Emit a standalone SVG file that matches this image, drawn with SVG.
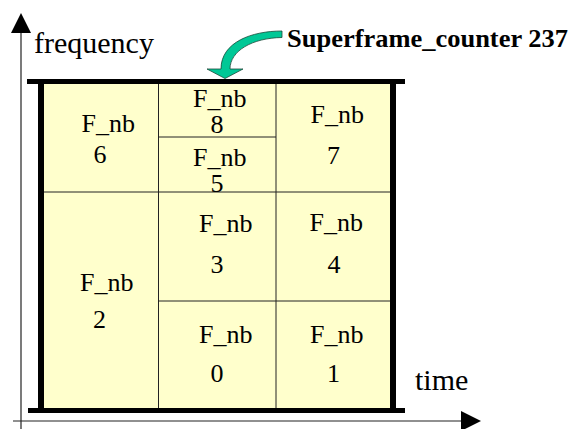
<svg xmlns="http://www.w3.org/2000/svg" width="570" height="429" viewBox="0 0 570 429">
<style>
.t{font-family:"Liberation Serif","Times New Roman",serif;font-size:26px;fill:#000}
.c{text-anchor:middle}
.big{font-family:"Liberation Serif","Times New Roman",serif;font-size:30px;fill:#000}
.grid{stroke:#222;stroke-width:1;fill:none}
.bar{fill:#000}
</style>
<rect x="0" y="0" width="570" height="429" fill="#fff"/>
<g id="connectors">
<line x1="21" y1="30" x2="21" y2="429" stroke="#222" stroke-width="1.2"/>
<polygon points="21,13 11,33 31,33" fill="#000"/>
<line x1="13" y1="421" x2="464" y2="421" stroke="#222" stroke-width="1.2"/>
<polygon points="481,421 461,411 461,431" fill="#000"/>
</g>
<g id="frame">
<rect x="44" y="84" width="346" height="324" fill="#FFFFCC"/>
<line class="grid" x1="158.5" y1="84" x2="158.5" y2="408"/>
<line class="grid" x1="276" y1="84" x2="276" y2="408"/>
<line class="grid" x1="44" y1="192" x2="390" y2="192"/>
<line class="grid" x1="158.5" y1="137" x2="276" y2="137"/>
<line class="grid" x1="158.5" y1="301" x2="390" y2="301"/>
<rect class="bar" x="27" y="79" width="378" height="5"/>
<rect class="bar" x="38" y="79" width="6" height="334"/>
<rect class="bar" x="390" y="79" width="6" height="334"/>
<rect class="bar" x="28" y="408" width="377" height="5"/>
</g>
<g id="cell6"><text class="t" x="81.5" y="132">F_nb</text><text class="t c" x="100" y="163">6</text></g>
<g id="cell8"><text class="t" x="193" y="106.5">F_nb</text><text class="t c" x="217" y="133">8</text></g>
<g id="cell5"><text class="t" x="193" y="165.5">F_nb</text><text class="t c" x="217" y="192">5</text></g>
<g id="cell7"><text class="t" x="310.5" y="122.5">F_nb</text><text class="t c" x="333.5" y="164">7</text></g>
<g id="cell3"><text class="t" x="199" y="232">F_nb</text><text class="t c" x="217" y="272.5">3</text></g>
<g id="cell4"><text class="t" x="309.5" y="230.5">F_nb</text><text class="t c" x="334" y="272.5">4</text></g>
<g id="cell2"><text class="t" x="80" y="291">F_nb</text><text class="t c" x="99.5" y="328">2</text></g>
<g id="cell0"><text class="t" x="199" y="343">F_nb</text><text class="t c" x="217" y="381.5">0</text></g>
<g id="cell1"><text class="t" x="310" y="342.5">F_nb</text><text class="t c" x="333.5" y="381.5">1</text></g>
<g id="labels">
<text class="big" x="34" y="53">frequency</text>
<text class="big" x="415" y="390">time</text>
<text x="287" y="46.5" font-family="'Liberation Serif','Times New Roman',serif" font-size="26" font-weight="bold" textLength="281" lengthAdjust="spacingAndGlyphs">Superframe_counter 237</text>
</g>
<g id="pointer">
<path d="M282,31 C252,31 221,42 221,69 L207,69 L225,78.5 L243,69 L230,69 C230,51 252,38 282,37.5 Z" fill="#00C896" stroke="#1a4a3a" stroke-width="0.8"/>
</g>
</svg>
